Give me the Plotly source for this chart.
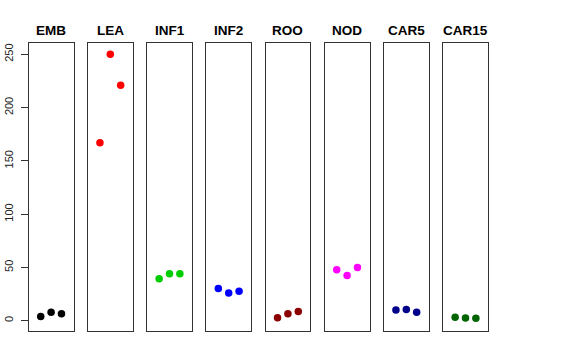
import plotly.graph_objects as go

tissues = ["EMB", "LEA", "INF1", "INF2", "ROO", "NOD", "CAR5", "CAR15"]
colors = ["#000000", "#FF0000", "#00CD00", "#0000FF", "#8B0000", "#FF00FF", "#00008B", "#006400"]
replicates = [1, 2, 3]
values = [
    [4.0, 7.8, 6.6],
    [167.0, 250.0, 221.0],
    [39.4, 44.0, 44.0],
    [30.3, 25.9, 27.5],
    [2.8, 6.6, 8.7],
    [47.8, 42.5, 50.0],
    [10.0, 10.5, 7.8],
    [3.1, 2.5, 2.2],
]
y_ticks = [0, 50, 100, 150, 200, 250]

W, H = 576, 360
left0, pw, step = 28.7, 44.8, 59.2
top_px, bot_px = 42.7, 331.0


def fx(px):
    return px / W


def fy(py):
    return (H - py) / H


fig = go.Figure()
layout = dict(
    width=W, height=H,
    margin=dict(l=0, r=0, t=0, b=0, autoexpand=False),
    paper_bgcolor="white", plot_bgcolor="white",
    showlegend=False,
    font=dict(family="Liberation Sans, Arial, sans-serif", color="black"),
    annotations=[],
)
ydom = [fy(bot_px), fy(top_px)]
for i, (name, col, vals) in enumerate(zip(tissues, colors, values)):
    k = "" if i == 0 else str(i + 1)
    x0 = fx(left0 + i * step)
    x1 = fx(left0 + i * step + pw)
    fig.add_trace(go.Scatter(
        x=replicates, y=vals, mode="markers",
        marker=dict(color=col, size=7.5, line=dict(width=0)),
        xaxis="x" + k, yaxis="y" + k, hoverinfo="skip",
    ))
    layout["xaxis" + k] = dict(
        domain=[x0, x1], range=[-0.16, 4.16], anchor="y" + k,
        showgrid=False, zeroline=False, showticklabels=False, ticks="",
        showline=True, mirror=True, linecolor="#333333", linewidth=1,
        automargin=False,
    )
    yax = dict(
        domain=ydom, range=[-9.7, 260.9], anchor="x" + k,
        showgrid=False, zeroline=False,
        showline=True, mirror=True, linecolor="#333333", linewidth=1,
        automargin=False,
    )
    if i == 0:
        yax.update(
            tickvals=y_ticks, ticktext=[str(v) for v in y_ticks],
            ticks="outside", ticklen=7, tickcolor="#333333", tickwidth=1,
            tickangle=-90, tickfont=dict(size=11, color="#222222"),
            ticklabelstandoff=3,
        )
    else:
        yax.update(showticklabels=False, ticks="")
    layout["yaxis" + k] = yax
    layout["annotations"].append(dict(
        text="<b>%s</b>" % name, x=(x0 + x1) / 2, y=fy(30),
        xref="paper", yref="paper", showarrow=False,
        xanchor="center", yanchor="middle",
        font=dict(size=13.5, color="black"),
    ))

fig.update_layout(**layout)
fig.write_html(
    "out.html",
    config={"displayModeBar": False},
    post_script="document.body.style.margin='0';",
)
